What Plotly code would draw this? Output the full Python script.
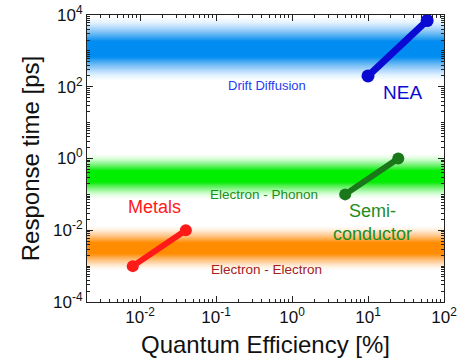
import plotly.graph_objects as go
import numpy as np

# ---- data ----
metals_qe = [0.008, 0.04]
metals_rt = [0.001, 0.01]
semi_qe = [5, 25]
semi_rt = [0.1, 1]
nea_qe = [10, 60]
nea_rt = [200, 7000]

band_labels = ["Drift Diffusion", "Electron - Phonon", "Electron - Electron"]
band_center_log = [3.05, -0.5, -2.5]
band_halfwidth_log = [0.85, 0.6, 0.6]

y_tickvals = [1e-4, 1e-2, 1, 1e2, 1e4]
y_ticktext = ["10<sup>-4</sup>", "10<sup>-2</sup>", "10<sup>0</sup>",
              "10<sup>2</sup>", "10<sup>4</sup>"]
x_tickvals = [1e-2, 1e-1, 1, 10, 100]
x_ticktext = ["10<sup>-2</sup>", "10<sup>-1</sup>", "10<sup>0</sup>",
              "10<sup>1</sup>", "10<sup>2</sup>"]

# ---- styles ----
band_rgb = [(0, 140, 240), (0, 238, 0), (255, 140, 0)]
band_text_colors = ["#1f3cf0", "#1e8c1e", "#a32020"]
FONT = "Liberation Sans, Arial, sans-serif"

fig = go.Figure()


def profile(t):
    return min(0.995, min(1.0, (1 - t) * 1.3) ** 1.5 + 0.04)


shapes = []
N = 40
for c, h, rgb in zip(band_center_log, band_halfwidth_log, band_rgb):
    # nested rectangles: level k covers |d| <= h*k/N ; compound alpha matches profile
    A = [profile((k - 0.5) / N) for k in range(1, N + 1)] + [0.0]
    for k in range(N, 0, -1):
        a = 1 - (1 - A[k - 1]) / (1 - A[k])
        d = h * k / N
        shapes.append(dict(type="rect", xref="paper", yref="y", x0=0, x1=1,
                           y0=10 ** (c - d), y1=10 ** (c + d),
                           fillcolor=f"rgba({rgb[0]},{rgb[1]},{rgb[2]},{a:.4f})",
                           line=dict(width=0), layer="below"))

fig.add_trace(go.Scatter(x=metals_qe, y=metals_rt, mode="lines+markers",
                         line=dict(color="#ff1a1a", width=6),
                         marker=dict(color="#ff1a1a", size=12), showlegend=False))
fig.add_trace(go.Scatter(x=semi_qe, y=semi_rt, mode="lines+markers",
                         line=dict(color="#1a781a", width=6),
                         marker=dict(color="#1a781a", size=12), showlegend=False))
fig.add_trace(go.Scatter(x=nea_qe, y=nea_rt, mode="lines+markers",
                         line=dict(color="#0a0ad2", width=7),
                         marker=dict(color="#0a0ad2", size=13), showlegend=False))

annotations = [
    dict(x=-0.33, y=2.04, text=band_labels[0], font=dict(size=13, color=band_text_colors[0])),
    dict(x=-0.37, y=-1.01, text=band_labels[1], font=dict(size=13.5, color=band_text_colors[1])),
    dict(x=-0.34, y=-3.1, text=band_labels[2], font=dict(size=13.5, color=band_text_colors[2])),
    dict(x=1.46, y=1.85, text="NEA", font=dict(size=19, color="#0a0ad2")),
    dict(x=-1.81, y=-1.34, text="Metals", font=dict(size=18, color="#ff1a1a")),
    dict(x=1.06, y=-1.78, text="Semi-<br>conductor", font=dict(size=18, color="#1e8c1e")),
]
for a in annotations:
    a.update(xref="x", yref="y", showarrow=False, xanchor="center", yanchor="middle")
    a["font"]["family"] = FONT

axis_common = dict(type="log", showline=True, linecolor="#222", linewidth=1,
                   mirror="ticks", ticks="inside", ticklen=6, tickwidth=1,
                   tickcolor="#222", showgrid=False, zeroline=False,
                   automargin=False,
                   tickfont=dict(size=17, color="#111", family=FONT),
                   minor=dict(dtick="D1", ticks="inside", ticklen=3,
                              tickcolor="#222", showgrid=False))

fig.update_layout(
    width=464, height=360,
    margin=dict(l=87, r=20, t=15, b=58),
    paper_bgcolor="white", plot_bgcolor="white",
    font=dict(family=FONT),
    shapes=shapes, annotations=annotations,
    xaxis=dict(axis_common, range=[np.log10(0.002), 2],
               tickvals=x_tickvals, ticktext=x_ticktext,
               title=dict(text="Quantum Efficiency [%]",
                          font=dict(size=24, color="#111", family=FONT), standoff=9)),
    yaxis=dict(axis_common, range=[-4, 4],
               tickvals=y_tickvals, ticktext=y_ticktext,
               title=dict(text="Response time [ps]",
                          font=dict(size=24, color="#111", family=FONT), standoff=6)),
)

fig.write_html("out.html", config={"displayModeBar": False},
               post_script="document.body.style.margin='0px';document.body.style.overflow='hidden';")
